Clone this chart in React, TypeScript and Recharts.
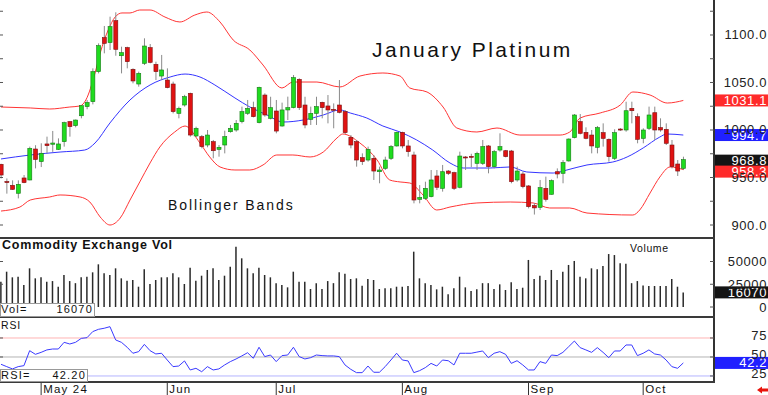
import React from 'react';
import { ComposedChart, Bar, Line, XAxis, YAxis, ReferenceLine } from 'recharts';

// Daily candles, index 0 = Apr 22, index 119 = Oct 10
const opens = [
  963.9, 945.8, 941.8, 933.4, 949.5, 947.4, 980, 966.7, 985.3, 985,
  979.6, 987.7, 1008.8, 1004.6, 1015, 1024.6, 1029.8, 1061.4, 1097.2, 1092,
  1115.1, 1078.2, 1086.7, 1063.9, 1048.4, 1070.2, 1086.7, 1069.1, 1056.8, 1052.6,
  1048.4, 1017.5, 1026.3, 1038.6, 993.7, 993, 984.2, 987.7, 979.6, 984.2,
  998.2, 1000, 1008.8, 1017.5, 1023.5, 1007.7, 1036.8, 1012.3, 1020, 1004.2,
  1021.1, 1023.5, 1053.3, 1026.3, 1011.2, 1017.5, 1029.1, 1025.3, 1021.8, 1026.3,
  1019.3, 992.3, 987.7, 970.9, 968.4, 970.2, 956.1, 959.6, 970.2, 983.2,
  997.5, 983.2, 973.7, 927, 928, 929.8, 951.6, 938.6, 956.8, 955.1,
  939.7, 971.6, 972.3, 964.9, 964.9, 983.2, 961.4, 978.9, 978.2, 977.9,
  947.4, 953.7, 941.1, 920.5, 918.6, 938.6, 932.3, 956.1, 954.4, 967.4,
  991.9, 1008.8, 997.5, 994.7, 981.8, 997.2, 990.2, 970.2, 1001, 1000,
  1022.8, 1014, 991.2, 1001.8, 1018.2, 1002.5, 1000.7, 984.2, 964.2, 959.6,
];
const highs = [
  964.5, 949, 947, 947, 952.6, 982.5, 984, 986, 993, 999,
  991.2, 1008.8, 1009.5, 1011, 1026.3, 1031.6, 1064.9, 1091.2, 1109.5, 1119.3,
  1123.9, 1087.7, 1087.7, 1064.9, 1061.4, 1096.5, 1090.5, 1071.9, 1079, 1064.9,
  1050.9, 1024.6, 1037, 1039.3, 1003.5, 994.7, 1000, 989.5, 984.2, 999.3,
  1005.3, 1010.5, 1024.6, 1031.6, 1029.8, 1045.6, 1038.6, 1035, 1031.6, 1028.8,
  1035.1, 1057.9, 1054.4, 1035, 1024.6, 1035, 1029.8, 1036.8, 1028, 1052.6,
  1021, 994.7, 989.5, 975.4, 982.5, 973.7, 961.4, 971.9, 984.2, 998.2,
  998.2, 989.5, 977.2, 942, 945.6, 957.9, 957.9, 963.2, 957.9, 956.1,
  977.2, 972.6, 975, 977.2, 989.5, 984.2, 979, 996.5, 979, 979,
  961.4, 956.1, 942.1, 923, 947.4, 950.9, 948, 959.6, 968.4, 991.2,
  1016.8, 1016.8, 1002.8, 1000, 1004.2, 1007, 991.2, 1000.7, 1002, 1029.8,
  1029.8, 1017.5, 1001.8, 1024.6, 1024.6, 1012.3, 1007, 989.5, 968.4, 971.9,
];
const lows = [
  949, 933, 937, 928, 944, 947, 959.6, 961, 975.5, 977,
  979, 982.5, 993, 1002.8, 1012.3, 1021.8, 1027, 1059.6, 1080.7, 1084.2,
  1078.2, 1059.6, 1064.9, 1049.1, 1045.6, 1068.4, 1070.2, 1052.6, 1052.6, 1043.9,
  1017.5, 1012.3, 1024.6, 993, 992.3, 980.7, 981.8, 970.2, 971.9, 975.4,
  997.2, 998.2, 1007, 1015.8, 1013.3, 1007, 1014, 1011.2, 996.5, 1003.5,
  1010.5, 1022.8, 1021.1, 1001.8, 1005.3, 1005.3, 1012.3, 1007, 1001.8, 1017.5,
  995.8, 980.7, 961.4, 963.2, 966.7, 947.4, 943.9, 957.9, 968.4, 982.5,
  980.7, 971.9, 922.8, 922.8, 926.3, 929.1, 936.8, 935.1, 952.6, 936.8,
  938.6, 957.9, 961, 957.9, 963.2, 954.4, 959.6, 977.2, 971.2, 943.9,
  945.6, 938.6, 917.5, 911, 915.8, 924.6, 932, 949.1, 943.9, 966.7,
  991.2, 995.4, 990.2, 975.4, 975.4, 982.5, 966.7, 968.4, 999, 998.2,
  1007, 986, 986, 1000, 989.5, 998.2, 984.2, 959.6, 951.6, 957.9,
];
const closes = [
  952.6, 944.6, 937.5, 942.8, 944.6, 980.7, 969, 975.5, 983.5, 986.3,
  985.3, 1007.7, 1003.5, 1010.5, 1025.6, 1029, 1061.4, 1088.8, 1091.2, 1108.8,
  1084.9, 1081.4, 1071.9, 1051.6, 1059.6, 1088.4, 1071.2, 1061.4, 1063.2, 1044.6,
  1019.3, 1022.8, 1035.1, 994.7, 1001.8, 982.5, 994.7, 978.2, 981.8, 993,
  1001.8, 1007, 1019.3, 1022.8, 1014, 1044.9, 1015.8, 1023.5, 998.9, 1021.1,
  1023.5, 1055.1, 1023.5, 1005.3, 1017.5, 1024.6, 1023.5, 1021.1, 1021.4, 1018.6,
  997.2, 984.2, 968.4, 966.7, 979.6, 956.8, 957.9, 968.4, 982.5, 997.5,
  983.2, 977.2, 926.3, 929, 938.6, 947.4, 939.7, 956.1, 954.4, 938.6,
  972.6, 970.8, 971.5, 975.4, 982.5, 961.4, 977.2, 982.5, 972, 945.6,
  956.8, 940.4, 919.3, 918, 939.3, 927, 946.7, 953.7, 965.6, 990.5,
  1015.8, 996.5, 991.2, 983.2, 1002.5, 991.2, 971.9, 997.2, 1000, 1020.3,
  1020.3, 990.2, 1000, 1015.8, 1000, 1000, 986, 961.4, 956.8, 968.8,
];
const volumes = [
  27800, 38800, 32600, 33300, 24200, 42500, 31500, 32600, 27800, 28500,
  22300, 35200, 28500, 26200, 32600, 33300, 38100, 46900, 37000, 35200,
  42500, 31500, 28900, 29700, 22300, 41400, 25300, 29700, 32600, 32600,
  37000, 32600, 25300, 43200, 28900, 34400, 40700, 42500, 29700, 34400,
  44300, 66300, 53500, 42500, 37000, 43200, 35200, 32600, 26200, 24200,
  21600, 38800, 27800, 27800, 19800, 26200, 19800, 28500, 26200, 38100,
  36500, 30800, 31500, 23400, 30800, 29700, 19800, 20500, 20500, 22300,
  22300, 23100, 60800, 31500, 26200, 24200, 19400, 22300, 13900, 20500,
  33300, 21600, 17600, 19400, 26200, 26200, 19800, 24900, 18700, 27100,
  19800, 21200, 51700, 30800, 34400, 29700, 40700, 29700, 38800, 46200,
  50600, 33300, 31500, 42500, 41400, 45100, 58200, 57100, 48000, 47600,
  26200, 28500, 23600, 23100, 23100, 23100, 23100, 30800, 22300, 16070,
];
const rsiValues = [
  40.4, 37.3, 34.3, 37.3, 38.6, 58.3, 53.5, 56.1, 59.3, 60.5,
  60.5, 69.3, 67.1, 69.3, 74.5, 75.4, 83.4, 86.4, 87.8, 89.9,
  72.4, 69.3, 62.8, 54.9, 57, 66.6, 58.3, 54, 54.9, 46,
  37.3, 38.1, 44.8, 32.9, 35.1, 30.6, 37.3, 32.9, 34.3, 39.5,
  43.9, 47.4, 51.4, 55.6, 48.3, 62.8, 50.5, 52.6, 43.9, 51.8,
  52.6, 62.8, 50.5, 47.4, 49.1, 52.6, 51.8, 51.4, 51.4, 50.5,
  39.5, 33.8, 29.4, 29.4, 38.1, 29.9, 29.9, 37.3, 46, 54.9,
  46, 44.8, 29.4, 32, 36, 41.6, 38.1, 46, 45.1, 39.5,
  54.9, 54.9, 54.9, 56.4, 57.9, 49.1, 54.9, 57, 53.5, 41.6,
  45.1, 39.5, 32.9, 32.9, 43.9, 41.6, 52.6, 51.8, 56.1, 63.5,
  71, 62.3, 59.3, 56.1, 62.3, 56.1, 49.1, 57.9, 57.9, 65.8,
  65.8, 51.8, 54.9, 59.3, 54, 52.6, 46, 37.3, 35.1, 42.2,
];

// Bollinger bands at bar positions
const upperIdx = [0, 5.1, 8.5, 12, 13.8, 14.8, 16.4, 17.3, 18.7, 19.9, 21.1, 22.5, 24.2, 26, 28.6, 31.2, 33.8, 35.9, 38.2, 40.5, 43.4, 45.7, 49, 50.9, 55.1, 59.1, 62.6, 66.6, 69.6, 71.3, 74.3, 77.1, 79.5, 83, 86.5, 90.5, 97.5, 99.2, 101, 104.5, 108, 110.2, 113.2, 116.2, 119];
const upperBand = [1024.2, 1023.2, 1022.1, 1024.2, 1025.3, 1031.6, 1060, 1081, 1105.3, 1118.9, 1123.2, 1123.2, 1126.3, 1126.3, 1118.9, 1113.7, 1121, 1124.2, 1113.7, 1094.7, 1084.2, 1068.4, 1044.2, 1050.5, 1050.5, 1045.3, 1056.8, 1060, 1056.8, 1044.2, 1040, 1024.2, 1002.1, 997.9, 1002.1, 994.7, 994.7, 997.9, 1012.6, 1017.9, 1026.3, 1040, 1036.8, 1028.4, 1031.1];
const midIdx = [0, 5.1, 10.3, 14.6, 16.4, 19, 22.5, 26, 29.5, 32.1, 34.7, 37.3, 40.8, 43.4, 46.4, 49.2, 52.7, 56.2, 59.1, 60.9, 63.8, 66.6, 69.6, 72.5, 75.3, 78.3, 80.6, 85.3, 88.8, 91.7, 96.3, 98.7, 102.2, 106.7, 109.2, 112, 114.9, 116.1, 119];
const midBand = [969.5, 973.7, 976.8, 978.9, 986.3, 1007.4, 1031.6, 1047.4, 1055.8, 1058.9, 1055.8, 1047.4, 1033.7, 1024.2, 1015.8, 1008.4, 1010.5, 1015.8, 1021.1, 1017.9, 1012.6, 1004.2, 997.9, 989.5, 978.9, 965.3, 960, 960, 961.1, 955.8, 954.7, 957.9, 963.2, 966.3, 971.6, 981.1, 992.6, 995.8, 994.7];
const lowerIdx = [0, 3.3, 5.1, 8.5, 10.3, 13.8, 15.5, 17.3, 19, 20.8, 22.5, 24.2, 26, 27.7, 30.3, 32.1, 34.7, 36.4, 38.2, 40.8, 43.4, 45.7, 48.1, 50.9, 53.9, 56.2, 58.6, 59.6, 62.6, 65.6, 67.8, 69.6, 71.3, 73.6, 76, 78.3, 83, 88.8, 92.8, 95.7, 99.2, 102.2, 110.2, 111.4, 113.2, 114.9, 116.7, 119];
const lowerBand = [914.7, 918.9, 926.3, 929.5, 931.6, 929.5, 924.2, 908.4, 900, 907.4, 926.3, 945.3, 965.3, 982.1, 997.9, 1004.2, 986.3, 971.6, 961.1, 957.9, 957.9, 963.2, 973.7, 973.7, 971.6, 976.8, 991.6, 995.8, 986.3, 968.4, 947.4, 945.3, 944.2, 931.6, 915.8, 918.9, 923.2, 924.2, 923.2, 917.9, 917.9, 912.6, 910.5, 915.8, 933.7, 950.5, 961.1, 958.3];

const monthTicks = [7, 29, 48, 70, 92, 112];
const monthLabels = ['May 24', 'Jun', 'Jul', 'Aug', 'Sep', 'Oct'];
const priceTicks = [900, 925, 950, 975, 1000, 1025, 1050, 1075, 1100, 1125];
const volumeTicks = [0, 25000, 50000];
const rsiTicks = [25, 50, 75];

const FONT = '"Liberation Sans", Arial, sans-serif';
const X_DOMAIN: [number, number] = [-0.174, 124.35];
const PRICE_DOMAIN: [number, number] = [887.37, 1136.84];
const CHART_W = 768;
const AXIS_W = 54;
const PLOT_W = CHART_W - AXIS_W;
const MARGIN = { top: 0, right: 0, left: 0, bottom: 0 };

const rows = opens.map((open, i) => ({
  i,
  open,
  high: highs[i],
  low: lows[i],
  close: closes[i],
  volume: volumes[i],
  rsi: rsiValues[i],
}));
const toPoints = (idx: number[], vals: number[]) => idx.map((i, k) => ({ i, v: vals[k] }));
const last = (a: number[]) => a[a.length - 1];

const Candle = (props: any) => {
  const { x, y, width, height, payload } = props;
  if (!payload || height == null) return null;
  const top = Math.min(y, y + height);
  const h = Math.abs(height);
  const k = h / Math.max(payload.high - payload.low, 0.01);
  const yo = top + (payload.high - payload.open) * k;
  const yc = top + (payload.high - payload.close) * k;
  const up = payload.close >= payload.open;
  const cx = x + width / 2;
  return (
    <g>
      <line x1={cx} x2={cx} y1={top} y2={top + h} stroke="#8a8a8a" strokeWidth={1} />
      <rect
        x={x}
        y={Math.min(yo, yc)}
        width={width}
        height={Math.max(Math.abs(yc - yo), 1)}
        fill={up ? '#1fdc1f' : '#e01212'}
        stroke={up ? '#157a15' : '#7a1010'}
        strokeWidth={0.6}
      />
    </g>
  );
};

// right-hand label, plus small marks inside both edges of the panel
const RightTick = ({ x, y, payload, show, fmt, dy = 4.5 }: any) => (
  <g>
    <line x1={x - 4} x2={x} y1={y} y2={y} stroke="#555" />
    <line x1={x - PLOT_W} x2={x - PLOT_W + 3} y1={y} y2={y} stroke="#555" />
    {show(payload.value) && (
      <text x={x + AXIS_W - 1} y={y + dy} textAnchor="end" fontSize={13} fill="#222" letterSpacing={0.6}>
        {fmt(payload.value)}
      </text>
    )}
  </g>
);

const MonthTick = ({ x, y, payload }: any) => (
  <g>
    <line x1={x} x2={x} y1={y} y2={y + 14} stroke="#333" />
    <text x={x + 2} y={y + 11.5} fontSize={11.5} fill="#111" letterSpacing={1.2}>
      {monthLabels[monthTicks.indexOf(payload.value)]}
    </text>
  </g>
);

const ValueBox = ({ viewBox, text, bg, shift = 0 }: any) => {
  if (!viewBox) return null;
  const x = viewBox.x + viewBox.width;
  const y = viewBox.y + shift;
  return (
    <g>
      <rect x={x - 1} y={y - 6} width={AXIS_W + 1} height={12} fill={bg} />
      <text x={x + AXIS_W - 1} y={y + 4.5} textAnchor="end" fontSize={13} fill="#fff" letterSpacing={0.6}>
        {text}
      </text>
    </g>
  );
};

// one band per layer, drawn under the candles with the same scales
const BandLayer = ({ idx, vals, color }: { idx: number[]; vals: number[]; color: string }) => (
  <div style={{ position: 'absolute', left: 0, top: 0 }}>
    <ComposedChart width={CHART_W} height={237} data={toPoints(idx, vals)} margin={MARGIN}>
      <XAxis dataKey="i" type="number" domain={X_DOMAIN} allowDataOverflow hide />
      <YAxis orientation="right" width={AXIS_W} domain={PRICE_DOMAIN} allowDataOverflow tick={false} tickLine={false} axisLine={false} />
      <Line dataKey="v" type="monotone" stroke={color} strokeWidth={1} dot={false} activeDot={false} isAnimationActive={false} />
    </ComposedChart>
  </div>
);

const App: React.FC = () => {
  return (
    <div style={{ position: 'absolute', left: 0, top: 0, width: CHART_W, height: 395, background: '#fff', fontFamily: FONT }}>
      <BandLayer idx={upperIdx} vals={upperBand} color="#ff3535" />
      <BandLayer idx={lowerIdx} vals={lowerBand} color="#ff3535" />
      <BandLayer idx={midIdx} vals={midBand} color="#3535ff" />

      <div style={{ position: 'absolute', left: 0, top: 0 }}>
        <ComposedChart width={CHART_W} height={237} data={rows} margin={MARGIN}>
          <XAxis dataKey="i" type="number" domain={X_DOMAIN} allowDataOverflow hide />
          <YAxis
            orientation="right"
            width={AXIS_W}
            domain={PRICE_DOMAIN}
            allowDataOverflow
            ticks={priceTicks}
            interval={0}
            tickSize={0}
            tickMargin={0}
            tickLine={false}
            axisLine={{ stroke: '#333', strokeWidth: 2 }}
            tick={(p: any) => <RightTick {...p} show={(v: number) => v % 50 === 0} fmt={(v: number) => v.toFixed(1)} />}
          />
          <Bar dataKey={(d: any) => [d.low, d.high]} barSize={4} shape={<Candle />} isAnimationActive={false} />
          <ReferenceLine y={last(upperBand)} stroke="none" label={<ValueBox text={last(upperBand).toFixed(1)} bg="#ff2a2a" />} />
          <ReferenceLine y={last(midBand)} stroke="none" label={<ValueBox text={last(midBand).toFixed(1)} bg="#2020ff" />} />
          <ReferenceLine y={last(closes)} stroke="none" label={<ValueBox text={last(closes).toFixed(1)} bg="#141414" shift={1} />} />
          <ReferenceLine y={last(lowerBand)} stroke="none" label={<ValueBox text={last(lowerBand).toFixed(1)} bg="#ff2a2a" shift={2} />} />
        </ComposedChart>
      </div>

      <div style={{ position: 'absolute', left: 0, top: 239 }}>
        <ComposedChart width={CHART_W} height={77} data={rows} margin={MARGIN}>
          <XAxis dataKey="i" type="number" domain={X_DOMAIN} allowDataOverflow hide />
          <YAxis
            orientation="right"
            width={AXIS_W}
            domain={[-9891, 74732]}
            allowDataOverflow
            ticks={volumeTicks}
            interval={0}
            tickSize={0}
            tickMargin={0}
            tickLine={false}
            axisLine={{ stroke: '#333', strokeWidth: 2 }}
            tick={(p: any) => <RightTick {...p} show={() => true} fmt={(v: number) => String(v)} />}
          />
          <Bar dataKey="volume" barSize={1.5} fill="#2a2a2a" isAnimationActive={false} />
          <ReferenceLine y={last(volumes)} stroke="none" label={<ValueBox text={String(last(volumes))} bg="#141414" />} />
        </ComposedChart>
      </div>

      <div style={{ position: 'absolute', left: 0, top: 318 }}>
        <ComposedChart width={CHART_W} height={77} data={rows} margin={MARGIN}>
          <XAxis
            dataKey="i"
            type="number"
            domain={X_DOMAIN}
            allowDataOverflow
            ticks={monthTicks}
            interval={0}
            tickSize={0}
            tickMargin={0}
            tickLine={false}
            axisLine={false}
            height={14}
            tick={(p: any) => <MonthTick {...p} />}
          />
          <YAxis
            orientation="right"
            width={AXIS_W}
            domain={[18.4, 101.3]}
            allowDataOverflow
            ticks={rsiTicks}
            interval={0}
            tickSize={0}
            tickMargin={0}
            tickLine={false}
            axisLine={{ stroke: '#333', strokeWidth: 2 }}
            tick={(p: any) => <RightTick {...p} show={() => true} fmt={(v: number) => String(v)} dy={2.5} />}
          />
          <ReferenceLine y={75} stroke="#ffb4b4" strokeWidth={1} />
          <ReferenceLine y={50} stroke="#b4b4b4" strokeWidth={1} />
          <ReferenceLine y={25} stroke="#b4b4ff" strokeWidth={1} />
          <Line dataKey="rsi" type="linear" stroke="#3a3aff" strokeWidth={1} dot={false} activeDot={false} isAnimationActive={false} />
          <ReferenceLine y={last(rsiValues)} stroke="none" label={<ValueBox text={last(rsiValues).toFixed(1)} bg="#2020ff" />} />
        </ComposedChart>
      </div>

      <svg width={CHART_W} height={395} style={{ position: 'absolute', left: 0, top: 0, pointerEvents: 'none' }}>
        <rect x={0} y={237} width={715} height={2} fill="#3a3a3a" />
        <rect x={0} y={316} width={715} height={2} fill="#3a3a3a" />
        <rect x={0} y={381} width={715} height={2} fill="#3a3a3a" />

        <text x={372} y={57} fontSize={21} fill="#111" letterSpacing={2.4}>January Platinum</text>
        <text x={168} y={210} fontSize={14} fill="#111" letterSpacing={1.9}>Bollinger Bands</text>
        <text x={2} y={249} fontSize={12.5} fontWeight="bold" fill="#111" letterSpacing={0.8}>Commodity Exchange Vol</text>
        <text x={630} y={252} fontSize={10.5} fill="#111" letterSpacing={0.6}>Volume</text>
        <text x={1} y={328.5} fontSize={10.5} fill="#111" letterSpacing={0.8}>RSI</text>

        <rect x={0.5} y={303.5} width={94} height={13} fill="#fff" stroke="#999" />
        <text x={1} y={313} fontSize={11} fill="#111" letterSpacing={1.2}>Vol=</text>
        <text x={93} y={313} fontSize={11} fill="#111" letterSpacing={1.2} textAnchor="end">{String(last(volumes))}</text>

        <rect x={0.5} y={369.5} width={87} height={12} fill="#fff" stroke="#999" />
        <text x={1} y={379} fontSize={11} fill="#111" letterSpacing={1.2}>RSI=</text>
        <text x={86} y={379} fontSize={11} fill="#111" letterSpacing={1.2} textAnchor="end">{last(rsiValues).toFixed(2)}</text>

        <path d="M757,390 L762,386.5 L762,388.6 L768,388.6 L768,391.4 L762,391.4 L762,393.5 Z" fill="#e8140c" />
      </svg>
    </div>
  );
};

export default App;
